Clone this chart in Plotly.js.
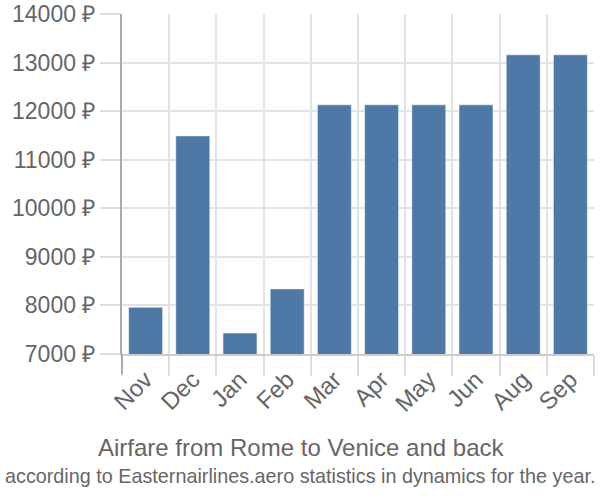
<!DOCTYPE html>
<html>
<head>
<meta charset="utf-8">
<script src="https://cdn.plot.ly/plotly-3.0.1.min.js"></script>
<style>html,body{margin:0;padding:0;background:#fff;}#chart{width:600px;height:500px;}</style>
</head>
<body>
<div id="chart"></div>
<script>
const months = ["Nov","Dec","Jan","Feb","Mar","Apr","May","Jun","Aug","Sep"];
const prices = [7960, 11490, 7430, 8340, 12130, 12130, 12130, 12130, 13160, 13160];
const yTicks = [7000, 8000, 9000, 10000, 11000, 12000, 13000, 14000];
const yTickLabels = yTicks.map(v => v + " ₽");
const titleText = "Airfare from Rome to Venice and back";
const subtitleText = "according to Easternairlines.aero statistics in dynamics for the year.";

const gray = "#666666";
const font = "Liberation Sans, Arial, sans-serif";

const trace = {
  type: "bar",
  x: months,
  y: prices,
  marker: {color: "#4e79a7", line: {color: "rgba(255,255,255,0.5)", width: 1}},
  hoverinfo: "none"
};

const layout = {
  width: 600, height: 500,
  margin: {l: 122, r: 6, t: 14, b: 146},
  paper_bgcolor: "#fff", plot_bgcolor: "#fff",
  showlegend: false,
  bargap: 0.28,
  font: {family: font, color: gray},
  xaxis: {
    type: "category",
    tickson: "boundaries",
    ticks: "outside", ticklen: 20, tickcolor: "#dddddd", tickwidth: 2,
    showgrid: true, gridcolor: "#e3e3e3", gridwidth: 2,
    showline: true, linecolor: "#cccccc", linewidth: 2,
    tickangle: -45,
    tickfont: {family: font, size: 24, color: gray}
  },
  yaxis: {
    range: [7000, 14000],
    tickvals: yTicks, ticktext: yTickLabels,
    ticks: "outside", ticklen: 20, tickcolor: "#dddddd", tickwidth: 2,
    showgrid: true, gridcolor: "#e3e3e3", gridwidth: 2,
    showline: true, linecolor: "#aaaaaa", linewidth: 2,
    zeroline: false,
    tickfont: {family: font, size: 23, color: gray}
  },
  annotations: [
    {text: titleText, xref: "paper", yref: "paper", x: (301-122)/472, y: (354-447)/340,
     xanchor: "center", yanchor: "middle", showarrow: false,
     font: {family: font, size: 24, color: gray}},
    {text: subtitleText, xref: "paper", yref: "paper", x: (300-122)/472, y: (354-476)/340,
     xanchor: "center", yanchor: "middle", showarrow: false,
     font: {family: font, size: 19.8, color: gray}}
  ],
  shapes: [
    {type: "line", xref: "paper", yref: "paper", x0: 0, x1: 0, y0: 0, y1: -20/340,
     line: {color: "#aaaaaa", width: 2}}
  ]
};

Plotly.newPlot("chart", [trace], layout, {displayModeBar: false, staticPlot: true});
</script>
</body>
</html>
